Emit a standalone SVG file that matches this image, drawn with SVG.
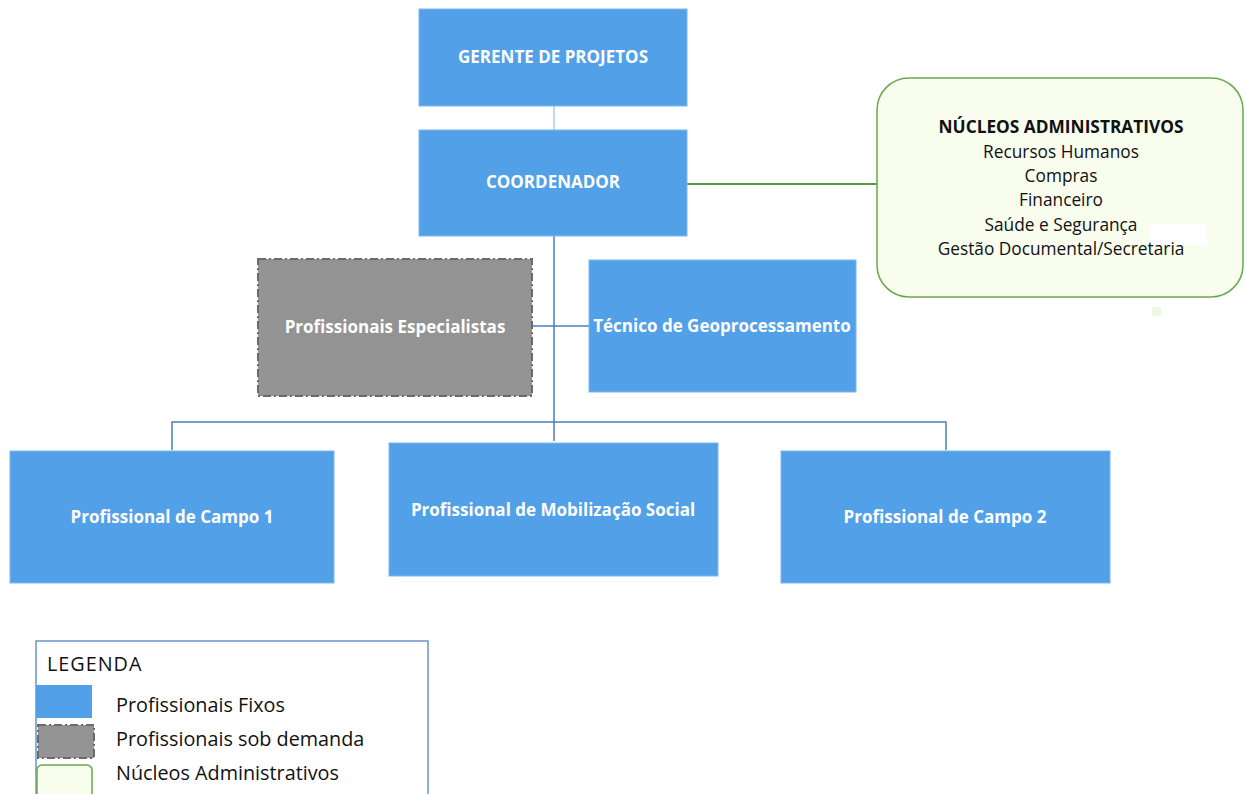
<svg xmlns="http://www.w3.org/2000/svg" width="1246" height="794" viewBox="0 0 1246 794">
<style>
.fix{fill:#52a1e8;stroke:#7db8ee;stroke-width:1}
.dem{fill:#939393;stroke:#6b6b6b;stroke-width:2;stroke-dasharray:8 3 2 3}
.nuc{fill:#f8fdee;stroke:#6aa84f;stroke-width:1.5}
.wt{font-family:"Open Sans","Liberation Sans",sans-serif;font-weight:bold;fill:#ffffff;text-anchor:middle;font-size:17px}
.bt{font-family:"Open Sans","Liberation Sans",sans-serif;fill:#111111;text-anchor:middle;font-size:17.3px}
.lt{font-family:"Open Sans","Liberation Sans",sans-serif;fill:#111111;font-size:19.8px}
.c{fill:none;stroke:#4a7fc0;stroke-width:1.5}
</style>
<rect width="1246" height="794" fill="#ffffff"/>
<g id="connectors">
<line x1="554" y1="106" x2="554" y2="130" stroke="#a9cdee" stroke-width="1.5"/>
<line x1="687" y1="184" x2="877" y2="184" stroke="#5b9a3c" stroke-width="2"/>
<line class="c" x1="554" y1="236" x2="554" y2="441"/>
<line class="c" x1="532" y1="326" x2="589" y2="326"/>
<polyline class="c" points="172,450 172,422 946,422 946,450"/>
</g>
<g id="gerente"><rect class="fix" x="419" y="9" width="268" height="97"/><text class="wt" x="553" y="63">GERENTE DE PROJETOS</text></g>
<g id="coordenador"><rect class="fix" x="419" y="130" width="268" height="106"/><text class="wt" x="553" y="188">COORDENADOR</text></g>
<g id="nucleos">
<rect class="nuc" x="877" y="78" width="366" height="219" rx="32"/>
<text class="bt" x="1061" y="133" font-weight="bold" font-size="16.8">NÚCLEOS ADMINISTRATIVOS</text>
<text class="bt" x="1061" y="158">Recursos Humanos</text>
<text class="bt" x="1061" y="182">Compras</text>
<text class="bt" x="1061" y="206">Financeiro</text>
<text class="bt" x="1061" y="231">Saúde e Segurança</text>
<rect x="1150" y="224" width="57" height="21" fill="#ffffff"/>
<text class="bt" x="1061" y="255">Gestão Documental/Secretaria</text>
<rect x="1152" y="307" width="9" height="9" fill="#eef8e4"/>
</g>
<g id="especialistas"><rect class="dem" x="258" y="259" width="274" height="137"/><text class="wt" x="395" y="333">Profissionais Especialistas</text></g>
<g id="tecnico"><rect class="fix" x="589" y="260" width="267" height="132"/><text class="wt" x="722" y="332">Técnico de Geoprocessamento</text></g>
<g id="campo1"><rect class="fix" x="10" y="451" width="324" height="132"/><text class="wt" x="172" y="523">Profissional de Campo 1</text></g>
<g id="mobilizacao"><rect class="fix" x="389" y="443" width="329" height="133"/><text class="wt" x="553" y="516">Profissional de Mobilização Social</text></g>
<g id="campo2"><rect class="fix" x="781" y="451" width="329" height="132"/><text class="wt" x="945" y="523">Profissional de Campo 2</text></g>
<g id="legenda">
<rect x="36" y="641" width="392" height="160" fill="#ffffff" stroke="#6a95c8" stroke-width="1.5"/>
<text class="lt" x="47" y="671" font-size="22" letter-spacing="1">LEGENDA</text>
<rect x="36" y="685" width="56" height="33" fill="#52a1e8"/>
<rect x="38" y="725" width="56" height="33" class="dem" stroke-width="1.2"/>
<rect x="37" y="765" width="55" height="40" rx="5" class="nuc"/>
<text class="lt" x="116" y="712">Profissionais Fixos</text>
<text class="lt" x="116" y="746">Profissionais sob demanda</text>
<text class="lt" x="116" y="780">Núcleos Administrativos</text>
</g>
</svg>
